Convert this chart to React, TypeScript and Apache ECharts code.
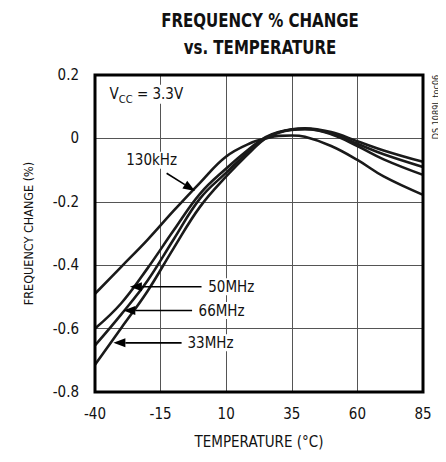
import React, { useEffect, useRef } from "react";
import * as echarts from "echarts";

const temps = [-40, -30, -20, -10, 0, 10, 20, 25, 30, 35, 40, 50, 60, 70, 85];
const f130kHz = [-0.49, -0.405, -0.32, -0.228, -0.14, -0.057, -0.012, 0.0, 0.008, 0.009, 0.005, -0.024, -0.068, -0.12, -0.178];
const f50MHz = [-0.6, -0.52, -0.41, -0.29, -0.175, -0.095, -0.025, 0.004, 0.02, 0.029, 0.032, 0.02, -0.009, -0.038, -0.074];
const f66MHz = [-0.653, -0.555, -0.449, -0.318, -0.19, -0.108, -0.03, 0.002, 0.019, 0.028, 0.03, 0.016, -0.017, -0.05, -0.09];
const f33MHz = [-0.714, -0.598, -0.482, -0.346, -0.216, -0.12, -0.036, 0.0, 0.018, 0.027, 0.029, 0.013, -0.024, -0.066, -0.115];

const seriesNames = ["130kHz", "50MHz", "66MHz", "33MHz"];
const seriesValues = [f130kHz, f50MHz, f66MHz, f33MHz];

const xMin = -40;
const xMax = 85;
const xStep = 25;
const yMin = -0.8;
const yMax = 0.2;
const yStep = 0.2;

const titleLines = ["FREQUENCY % CHANGE", "vs. TEMPERATURE"];
const xName = "TEMPERATURE (°C)";
const yName = "FREQUENCY CHANGE (%)";
const docId = "DS 1089L toc06";

// annotation anchors in data coordinates [temperature, % change]
const annotations = [
  { text: "130kHz", label: [-18.4, -0.069], from: [-12.7, -0.11], tip: [-1.9, -0.166], align: "center" },
  { text: "50MHz", label: [2.4, -0.468], from: [0.6, -0.468], tip: [-26.7, -0.468], align: "left" },
  { text: "66MHz", label: [-1.3, -0.543], from: [-3.0, -0.543], tip: [-29.2, -0.543], align: "left" },
  { text: "33MHz", label: [-5.5, -0.645], from: [-7.0, -0.645], tip: [-33.0, -0.645], align: "left" },
];
const vccAnchor = [-35.6, 0.139];

const FONT = "'Liberation Sans Narrow', 'DejaVu Sans Condensed', 'Roboto', sans-serif";

export default function App() {
  const ref = useRef<HTMLDivElement>(null);
  useEffect(() => {
    if (!ref.current) return;
    const chart = echarts.init(ref.current, null, { renderer: "svg" });
    const option: any = {
      animation: false,
      backgroundColor: "#fff",
      grid: {
        left: 87,
        right: 23,
        top: 67,
        bottom: 51,
        show: true,
        borderColor: "#000",
        borderWidth: 3,
        z: 5,
      },
      xAxis: {
        type: "value",
        min: xMin,
        max: xMax,
        interval: xStep,
        name: xName,
        nameLocation: "middle",
        nameGap: 42,
        nameTextStyle: { fontFamily: FONT, fontSize: 15, color: "#111" },
        axisLine: { show: false },
        axisTick: { show: false },
        axisLabel: { fontFamily: FONT, fontSize: 15, color: "#111", margin: 14 },
        splitLine: { show: true, lineStyle: { color: "#555", width: 1 } },
      },
      yAxis: {
        type: "value",
        min: yMin,
        max: yMax,
        interval: yStep,
        name: yName,
        nameLocation: "middle",
        nameGap: 60,
        nameRotate: 90,
        nameTextStyle: { fontFamily: FONT, fontSize: 12.5, color: "#111" },
        axisLine: { show: false },
        axisTick: { show: false },
        axisLabel: {
          fontFamily: FONT,
          fontSize: 15,
          color: "#111",
          margin: 16,
          formatter: (v: number) => String(parseFloat(v.toFixed(1))),
        },
        splitLine: { show: true, lineStyle: { color: "#555", width: 1 } },
      },
      series: seriesNames.map((name, i) => ({
        name,
        type: "line",
        smooth: 0.4,
        symbol: "none",
        data: temps.map((t, j) => [t, seriesValues[i][j]]),
        lineStyle: { color: "#1a1a1a", width: 2.6 },
        z: 3,
      })),
    };
    chart.setOption(option);

    const px = (p: number[]) => chart.convertToPixel({ gridIndex: 0 }, p) as number[];
    const g: any[] = [];
    titleLines.forEach((t, i) => {
      g.push({
        type: "text",
        x: 252,
        y: 12 + i * 27,
        scaleX: 0.88,
        style: { text: t, fontFamily: FONT, fontWeight: "bold", fontSize: 19, fill: "#111", align: "center", verticalAlign: "middle" },
      });
    });
    g.push({
      type: "text",
      x: 428,
      y: 99,
      rotation: Math.PI / 2,
      style: { text: docId, fontFamily: FONT, fontSize: 9, fill: "#222", align: "center", verticalAlign: "middle" },
    });
    const [vx, vy] = px(vccAnchor);
    g.push({
      type: "text",
      x: vx,
      y: vy,
      z: 100,
      style: {
        text: "{a|V}{b|CC}{a| = 3.3V}",
        align: "left",
        verticalAlign: "middle",
        backgroundColor: "#fff",
        padding: [2, 3],
        rich: {
          a: { fontFamily: FONT, fontSize: 15, fill: "#111", verticalAlign: "bottom" },
          b: { fontFamily: FONT, fontSize: 11, fill: "#111", verticalAlign: "bottom", padding: [0, 0, -3, 0] },
        },
      },
    });
    annotations.forEach((a) => {
      const [x1, y1] = px(a.from);
      const [x2, y2] = px(a.tip);
      const ang = Math.atan2(y2 - y1, x2 - x1);
      const L = 12;
      const W = 4.5;
      const bx = x2 - L * Math.cos(ang);
      const by = y2 - L * Math.sin(ang);
      g.push({ type: "line", z: 100, shape: { x1, y1, x2: bx, y2: by }, style: { stroke: "#000", lineWidth: 1.6 } });
      g.push({
        type: "polygon",
        z: 100,
        shape: {
          points: [
            [x2, y2],
            [bx - W * Math.sin(ang), by + W * Math.cos(ang)],
            [bx + W * Math.sin(ang), by - W * Math.cos(ang)],
          ],
        },
        style: { fill: "#000" },
      });
      const [lx, ly] = px(a.label);
      g.push({
        type: "text",
        x: lx,
        y: ly,
        z: 100,
        style: {
          text: a.text,
          fontFamily: FONT,
          fontSize: 15,
          fill: "#111",
          align: a.align,
          verticalAlign: "middle",
          backgroundColor: "#fff",
          padding: [1, 2],
        },
      });
    });
    chart.setOption({ graphic: g });
    return () => chart.dispose();
  }, []);
  return <div ref={ref} style={{ width: 438, height: 446 }} />;
}
